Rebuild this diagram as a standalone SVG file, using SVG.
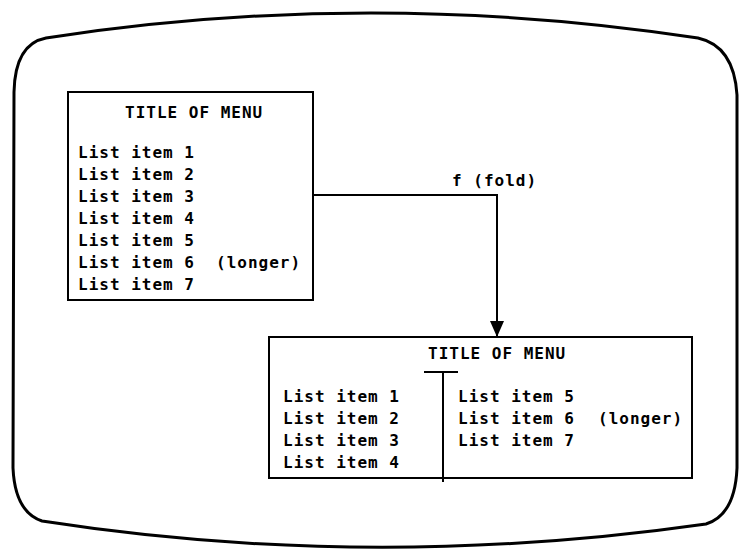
<svg xmlns="http://www.w3.org/2000/svg" width="741" height="555" viewBox="0 0 741 555">
<style>
text{font-family:"DejaVu Sans Mono","Liberation Mono",monospace;font-size:16px;font-weight:bold;letter-spacing:1px;fill:#000}
.box{fill:none;stroke:#000;stroke-width:2}
.ln{fill:none;stroke:#000;stroke-width:2}
</style>
<defs>
<marker id="ah" markerWidth="16" markerHeight="14" refX="16" refY="7" orient="auto" markerUnits="userSpaceOnUse">
<path d="M0,0 L16,7 L0,14 Z" fill="#000"/>
</marker>
</defs>
<g id="screen">
<path d="M14,92 Q15,44 46,38 Q370,-12 698,38 Q734,46 737,95 L737,468 Q735,515 706,524 Q370,572 42,521 Q15,512 13,468 Z" fill="none" stroke="#000" stroke-width="3"/>
</g>
<g id="menu-full">
<rect class="box" x="68" y="92" width="245" height="208"/>
<text x="125" y="118">TITLE OF MENU</text>
<text x="78" y="158">List item 1</text>
<text x="78" y="180">List item 2</text>
<text x="78" y="202">List item 3</text>
<text x="78" y="224">List item 4</text>
<text x="78" y="246">List item 5</text>
<text x="78" y="268">List item 6</text>
<text x="216" y="268">(longer)</text>
<text x="78" y="290">List item 7</text>
</g>
<g id="menu-folded">
<rect class="box" x="269" y="337" width="423" height="141"/>
<text x="428" y="359">TITLE OF MENU</text>
<line class="ln" x1="424" y1="372" x2="458" y2="372"/>
<line class="ln" x1="443" y1="372" x2="443" y2="482"/>
<text x="283" y="402">List item 1</text>
<text x="283" y="424">List item 2</text>
<text x="283" y="446">List item 3</text>
<text x="283" y="468">List item 4</text>
<text x="458" y="402">List item 5</text>
<text x="458" y="424">List item 6</text>
<text x="598" y="424">(longer)</text>
<text x="458" y="446">List item 7</text>
</g>
<g id="connectors">
<path class="ln" d="M313,195 L497,195 L497,337" marker-end="url(#ah)"/>
<text x="452" y="186">f (fold)</text>
</g>
</svg>
